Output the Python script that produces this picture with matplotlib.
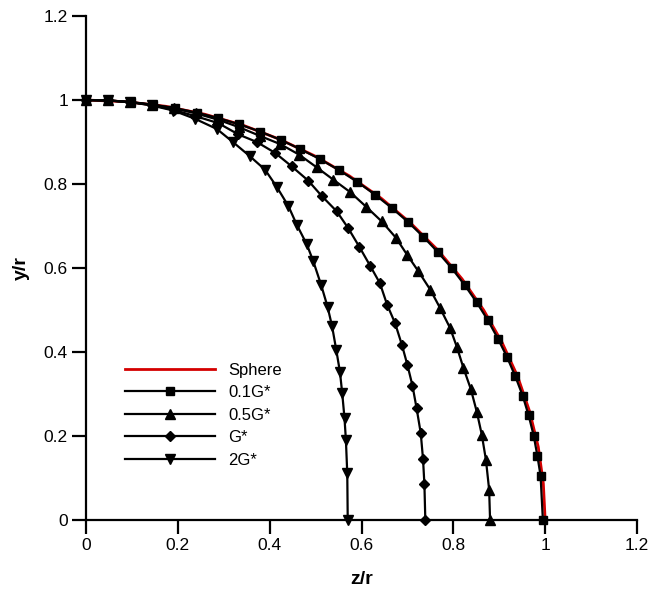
import numpy as np
import matplotlib
matplotlib.use('Agg')
import matplotlib.pyplot as plt
from matplotlib import rcParams

rcParams['font.family'] = 'sans-serif'
rcParams['font.sans-serif'] = ['Liberation Sans', 'DejaVu Sans']

# sphere reference (red)
z_sph = [0, 0.087, 0.174, 0.259, 0.342, 0.423, 0.5, 0.574, 0.643, 0.707,
         0.766, 0.819, 0.866, 0.906, 0.940, 0.966, 0.985, 0.996, 1.0]
y_sph = [1.0, 0.996, 0.985, 0.966, 0.940, 0.906, 0.866, 0.819, 0.766, 0.707,
         0.643, 0.574, 0.5, 0.423, 0.342, 0.259, 0.174, 0.087, 0]

# 0.1G*
z_01 = [0, 0.049, 0.097, 0.145, 0.193, 0.241, 0.288, 0.334, 0.379, 0.424,
        0.467, 0.510, 0.551, 0.591, 0.629, 0.666, 0.701, 0.735, 0.767, 0.797,
        0.825, 0.851, 0.875, 0.897, 0.917, 0.935, 0.951, 0.964, 0.975, 0.983,
        0.990, 0.995]
y_01 = [1, 0.999, 0.995, 0.989, 0.981, 0.970, 0.957, 0.942, 0.925, 0.905,
        0.883, 0.859, 0.833, 0.805, 0.775, 0.743, 0.710, 0.674, 0.637, 0.599,
        0.559, 0.518, 0.476, 0.432, 0.388, 0.342, 0.296, 0.249, 0.201, 0.153,
        0.105, 0]

# 0.5G*
z_05 = [0, 0.048, 0.096, 0.144, 0.192, 0.240, 0.288, 0.334, 0.380, 0.423,
        0.464, 0.502, 0.539, 0.575, 0.610, 0.644, 0.675, 0.699, 0.724, 0.750,
        0.771, 0.793, 0.808, 0.822, 0.838, 0.851, 0.862, 0.871, 0.878, 0.880]
y_05 = [1, 0.999, 0.995, 0.989, 0.980, 0.968, 0.953, 0.935, 0.914, 0.895,
        0.870, 0.840, 0.810, 0.781, 0.746, 0.711, 0.672, 0.632, 0.592, 0.548,
        0.505, 0.457, 0.411, 0.362, 0.312, 0.258, 0.203, 0.143, 0.072, 0]

# G*
z_g = [0, 0.048, 0.096, 0.144, 0.192, 0.240, 0.288, 0.332, 0.372, 0.412,
       0.448, 0.484, 0.513, 0.546, 0.571, 0.595, 0.619, 0.640, 0.656, 0.673,
       0.688, 0.700, 0.711, 0.720, 0.729, 0.734, 0.737, 0.739]
y_g = [1, 0.999, 0.995, 0.988, 0.976, 0.961, 0.945, 0.918, 0.900, 0.874,
       0.842, 0.808, 0.772, 0.735, 0.695, 0.651, 0.605, 0.564, 0.512, 0.469,
       0.417, 0.369, 0.320, 0.266, 0.207, 0.145, 0.085, 0]

# 2G*
z_2g = [0, 0.048, 0.096, 0.143, 0.190, 0.238, 0.285, 0.321, 0.357, 0.390,
        0.415, 0.441, 0.459, 0.481, 0.495, 0.512, 0.526, 0.536, 0.545, 0.553,
        0.558, 0.563, 0.566, 0.569, 0.570]
y_2g = [1, 0.999, 0.995, 0.987, 0.975, 0.955, 0.931, 0.899, 0.866, 0.834,
        0.794, 0.747, 0.703, 0.656, 0.616, 0.560, 0.508, 0.461, 0.405, 0.353,
        0.302, 0.242, 0.191, 0.111, 0]

ticks = [0, 0.2, 0.4, 0.6, 0.8, 1.0, 1.2]
tick_labels = ['0', '0.2', '0.4', '0.6', '0.8', '1', '1.2']

fig = plt.figure(figsize=(6.52, 5.93), dpi=100)
ax = fig.add_axes([0.1319, 0.1231, 0.8451, 0.8499])

ax.plot(z_sph, y_sph, color='#d40000', linewidth=2.0, label='Sphere', clip_on=False, zorder=2)
ax.plot(z_01, y_01, color='black', linewidth=1.6, marker='s', markersize=5.5,
        label='0.1G*', clip_on=False, zorder=3)
ax.plot(z_05, y_05, color='black', linewidth=1.6, marker='^', markersize=6.5,
        label='0.5G*', clip_on=False, zorder=3)
ax.plot(z_g, y_g, color='black', linewidth=1.6, marker='D', markersize=5,
        label='G*', clip_on=False, zorder=3)
ax.plot(z_2g, y_2g, color='black', linewidth=1.6, marker='v', markersize=6.5,
        label='2G*', clip_on=False, zorder=3)

ax.set_xlim(0, 1.2)
ax.set_ylim(0, 1.2)
ax.set_xticks(ticks)
ax.set_xticklabels(tick_labels)
ax.set_yticks(ticks)
ax.set_yticklabels(tick_labels)

ax.spines['top'].set_visible(False)
ax.spines['right'].set_visible(False)
ax.spines['left'].set_linewidth(1.6)
ax.spines['bottom'].set_linewidth(1.6)
ax.tick_params(direction='out', length=10, width=1.6, labelsize=12.5, pad=3)

ax.set_xlabel('z/r', fontsize=14, fontweight='bold', labelpad=13)
ax.set_ylabel('y/r', fontsize=14, fontweight='bold', labelpad=10)

ax.legend(loc='upper left', bbox_to_anchor=(0.07, 0.312), frameon=False,
          fontsize=12, handlelength=5.4, handletextpad=0.8, labelspacing=0.45,
          borderpad=0, borderaxespad=0)

fig.savefig('out.png', dpi=100)
